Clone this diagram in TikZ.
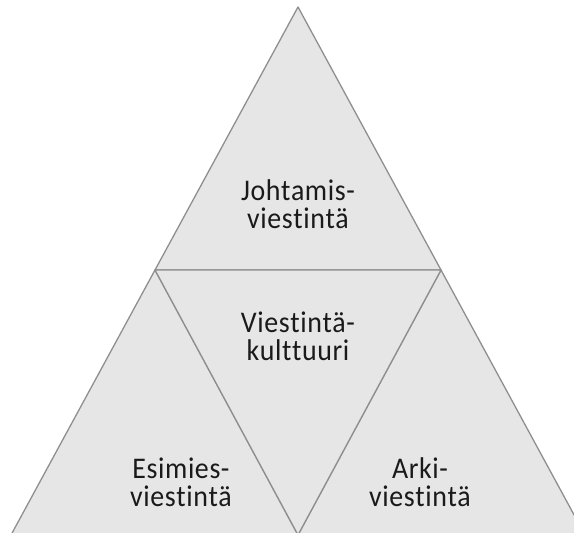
\documentclass[tikz,border=0pt]{standalone}
\usepackage{fontspec}
\setmainfont{Carlito}[FakeStretch=0.93,Ligatures={NoCommon},Kerning=Off,LetterSpace=2]
\definecolor{pyrfill}{HTML}{E6E6E6}
\definecolor{pyrline}{HTML}{8F8F8F}
\definecolor{pyrtext}{HTML}{1A1A1A}
\begin{document}
\begin{tikzpicture}[x=1pt,y=-1pt,
  part/.style={fill=pyrfill,draw=pyrline,line width=1.3pt,line join=round},
  label/.style={align=center,text=pyrtext,font=\fontsize{30}{28}\selectfont}]
\useasboundingbox (0,0) rectangle (574,533);
\clip (0,0) rectangle (574,533);
% corner points of the pyramid
\coordinate (apex) at (298,7);
\coordinate (ml) at (155,270);
\coordinate (mr) at (441,270);
\coordinate (bl) at (11,535);
\coordinate (bm) at (298,535);
\coordinate (br) at (585,535);
% four parts
\draw[part] (apex) -- (ml) -- (mr) -- cycle;
\draw[part] (ml) -- (bl) -- (bm) -- cycle;
\draw[part] (mr) -- (bm) -- (br) -- cycle;
\draw[part] (ml) -- (mr) -- (bm) -- cycle;
% texts
\node[label] (johto) at (298,204) {Johtamis-\\viestintä};
\node[label] (kult) at (298,336) {Viestintä-\\kulttuuri};
\node[label] (esim) at (181,482) {Esimies-\\viestintä};
\node[label] (arki) at (420,482) {Arki-\\viestintä};
\end{tikzpicture}
\end{document}
